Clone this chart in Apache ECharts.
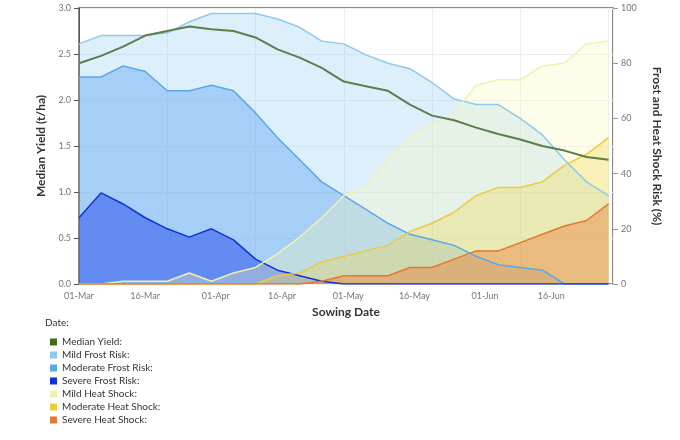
<!DOCTYPE html>
<html>
<head>
<meta charset="utf-8">
<script src="https://cdn.jsdelivr.net/npm/echarts@6/dist/echarts.min.js"></script>
<style>
  html, body { margin: 0; padding: 0; background: #fff; }
  #chart { width: 680px; height: 440px; }
</style>
</head>
<body>
<div id="chart"></div>
<script>
// days since 01-Mar, one point every 5 days
var days = [0,5,10,15,20,25,30,35,40,45,50,55,60,65,70,75,80,85,90,95,100,105,110,115,120];
var tickDays = [0,15,31,46,61,76,92,107];
var tickNames = ['01-Mar','16-Mar','01-Apr','16-Apr','01-May','16-May','01-Jun','16-Jun'];

var medianYield   = [2.40,2.48,2.58,2.70,2.75,2.80,2.77,2.75,2.68,2.55,2.46,2.35,2.20,2.15,2.10,1.95,1.83,1.78,1.70,1.63,1.57,1.50,1.45,1.38,1.35];
var mildFrost     = [87,90,90,90,91,95,98,98,98,96,93,88,87,83,80,78,73,67,65,65,60,54,45,37,32];
var moderateFrost = [75,75,79,77,70,70,72,70,62,53,45,37,32,27,22,18,16,14,10,7,6,5,0,0,0];
var severeFrost   = [24,33,29,24,20,17,20,16,9,5,3,1,0,0,0,0,0,0,0,0,0,0,0,0,0];
var mildHeat      = [0,0,1,1,1,4,1,4,6,11,17,24,32,35,45,53,58,62,72,74,74,79,80,87,88];
var moderateHeat  = [0,0,0,0,0,0,0,0,0,3,4,8,10,12,14,19,22,26,32,35,35,37,43,47,53];
var severeHeat    = [0,0,0,0,0,0,0,0,0,0,0,1,3,3,3,6,6,9,12,12,15,18,21,23,29];

function pairs(vals) {
  return days.map(function(d, i) { return [d, vals[i]]; });
}

function area(name, vals, line, fill) {
  return {
    name: name, type: 'line', yAxisIndex: 1, data: pairs(vals),
    symbol: 'none', color: line,
    lineStyle: { color: line, width: 1.5 },
    areaStyle: { color: fill }
  };
}

var myChart = echarts.init(document.getElementById('chart'));
var font = 'Lato';
myChart.setOption({
  animation: false,
  textStyle: { fontFamily: font },
  grid: { left: 79, right: 67, top: 8, bottom: 156, show: true, borderColor: '#666', borderWidth: 1.5, backgroundColor: 'transparent' },
  graphic: [{ type: 'text', left: 45, top: 318, style: { text: 'Date:', fontSize: 10, fontFamily: font, fill: '#333' } }],
  legend: {
    orient: 'vertical', left: 45, top: 332, itemGap: 3,
    itemWidth: 7, itemHeight: 7, icon: 'rect',
    textStyle: { fontSize: 10, color: '#333', fontFamily: font },
    formatter: function(n) { return n + ':'; }
  },
  xAxis: {
    type: 'value', min: 0, max: 121,
    name: 'Sowing Date', nameLocation: 'middle', nameGap: 22,
    nameTextStyle: { fontSize: 12, fontWeight: 'bold', color: '#333' },
    axisLine: { show: false }, axisTick: { show: false },
    axisLabel: {
      customValues: tickDays, fontSize: 9, color: '#777',
      formatter: function(v) { var i = tickDays.indexOf(v); return i >= 0 ? tickNames[i] : ''; }
    },
    splitLine: { show: true, lineStyle: { color: '#eee' } }
  },
  yAxis: [{
    type: 'value', min: 0, max: 3, interval: 0.5,
    name: 'Median Yield (t/ha)', nameLocation: 'middle', nameGap: 28,
    nameTextStyle: { fontSize: 12, fontWeight: 'bold', color: '#333' },
    axisLabel: { fontSize: 9, color: '#777', formatter: function(v) { return v.toFixed(1); } },
    splitLine: { lineStyle: { color: '#eee' } }
  }, {
    type: 'value', min: 0, max: 100, interval: 20,
    name: 'Frost and Heat Shock Risk (%)', nameLocation: 'middle', nameGap: 38, nameRotate: -90,
    nameTextStyle: { fontSize: 12, fontWeight: 'bold', color: '#333' },
    axisLine: { show: false }, axisTick: { show: true, lineStyle: { color: '#999' } },
    axisLabel: { fontSize: 9, color: '#777' },
    splitLine: { show: false }
  }],
  series: [
    { name: 'Median Yield', type: 'line', yAxisIndex: 0, data: pairs(medianYield), symbol: 'none',
      color: '#3f6b1f', lineStyle: { color: '#5a7f4a', width: 2 }, z: 5 },
    area('Mild Frost Risk', mildFrost, '#8ec9ef', 'rgba(150,205,245,0.45)'),
    area('Moderate Frost Risk', moderateFrost, '#5aa8ec', 'rgba(90,165,240,0.6)'),
    area('Severe Frost Risk', severeFrost, '#1530d8', 'rgba(40,80,240,0.75)'),
    area('Mild Heat Shock', mildHeat, '#eef2b0', 'rgba(250,248,185,0.45)'),
    area('Moderate Heat Shock', moderateHeat, '#eccb40', 'rgba(240,210,70,0.45)'),
    area('Severe Heat Shock', severeHeat, '#e6772f', 'rgba(235,125,50,0.6)')
  ]
});
</script>
</body>
</html>
